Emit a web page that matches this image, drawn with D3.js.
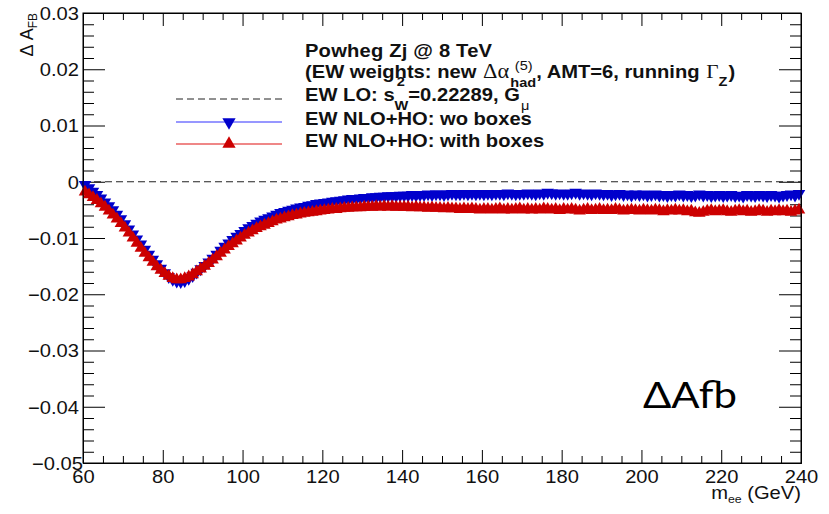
<!DOCTYPE html>
<html><head><meta charset="utf-8">
<script src="https://cdn.jsdelivr.net/npm/d3@7"></script>
<style>
html,body{margin:0;padding:0;background:#fff;}
svg{display:block;}
</style></head>
<body>
<svg id="chart" width="829" height="514"></svg>
<script>
// ---- data ----
const massDomain = [60, 240];
const yDomain = [-0.05, 0.03];
const binStart = 60.5;   // first bin centre (GeV), 1 GeV bins
const xMajorTicks = [60, 80, 100, 120, 140, 160, 180, 200, 220, 240];
const yMajorTicks = [-0.05, -0.04, -0.03, -0.02, -0.01, 0, 0.01, 0.02, 0.03];

const woBoxes = [
 -0.0005,-0.0011,-0.0017,-0.0023,-0.0029,-0.0036,-0.0043,-0.0050,-0.0058,-0.0066,
 -0.0075,-0.0084,-0.0093,-0.0102,-0.0111,-0.0120,-0.0129,-0.0138,-0.0146,-0.0154,
 -0.0162,-0.0169,-0.0174,-0.0177,-0.0178,-0.0176,-0.0172,-0.0167,-0.0161,-0.0155,
 -0.0149,-0.0143,-0.0136,-0.0129,-0.0122,-0.0115,-0.0109,-0.0103,-0.0097,-0.0092,
 -0.0087,-0.0082,-0.0078,-0.0074,-0.0070,-0.0067,-0.0064,-0.0061,-0.0058,-0.0055,
 -0.0053,-0.0051,-0.0049,-0.0047,-0.0045,-0.0044,-0.0042,-0.0041,-0.0039,-0.0038,
 -0.0037,-0.0036,-0.0035,-0.0034,-0.0033,-0.0032,-0.0031,-0.0030,-0.0030,-0.0029,
 -0.0028,-0.0028,-0.0027,-0.0027,-0.0026,-0.0026,-0.0025,-0.0025,-0.0025,-0.0024,
 -0.0024,
 -0.0024,-0.0023,-0.0024,-0.0023,-0.0023,-0.0022,-0.0023,-0.0022,-0.0022,-0.0023,
 -0.0022,-0.0021,-0.0022,-0.0022,-0.0021,-0.0022,-0.0021,-0.0022,-0.0021,-0.0022,
 -0.0021,-0.0022,-0.0021,-0.0021,-0.0022,-0.0020,-0.0021,-0.0022,-0.0021,-0.0021,
 -0.0020,-0.0021,-0.0022,-0.0020,-0.0021,-0.0019,-0.0020,-0.0021,-0.0020,-0.0021,
 -0.0021,-0.0020,-0.0019,-0.0021,-0.0020,-0.0021,-0.0022,-0.0020,-0.0021,-0.0022,
 -0.0021,-0.0023,-0.0022,-0.0021,-0.0023,-0.0022,-0.0024,-0.0022,-0.0023,-0.0022,
 -0.0024,-0.0023,-0.0022,-0.0024,-0.0023,-0.0025,-0.0023,-0.0024,-0.0022,-0.0024,
 -0.0023,-0.0025,-0.0024,-0.0022,-0.0024,-0.0023,-0.0025,-0.0024,-0.0023,-0.0025,
 -0.0024,-0.0023,-0.0025,-0.0024,-0.0026,-0.0023,-0.0024,-0.0025,-0.0023,-0.0024,
 -0.0025,-0.0023,-0.0024,-0.0026,-0.0024,-0.0023,-0.0022,-0.0024,-0.0021
];

const withBoxes = [
 -0.0018,-0.0023,-0.0028,-0.0033,-0.0039,-0.0045,-0.0052,-0.0059,-0.0066,-0.0074,
 -0.0082,-0.0091,-0.0100,-0.0109,-0.0118,-0.0127,-0.0135,-0.0143,-0.0151,-0.0157,
 -0.0163,-0.0168,-0.0172,-0.0174,-0.0174,-0.0172,-0.0169,-0.0165,-0.0160,-0.0155,
 -0.0150,-0.0145,-0.0139,-0.0133,-0.0127,-0.0121,-0.0115,-0.0110,-0.0105,-0.0100,
 -0.0095,-0.0091,-0.0087,-0.0083,-0.0080,-0.0077,-0.0074,-0.0071,-0.0068,-0.0066,
 -0.0064,-0.0062,-0.0060,-0.0059,-0.0057,-0.0056,-0.0055,-0.0054,-0.0053,-0.0052,
 -0.0051,-0.0050,-0.0049,-0.0049,-0.0048,-0.0047,-0.0047,-0.0046,-0.0046,-0.0046,
 -0.0045,-0.0045,-0.0045,-0.0044,-0.0045,-0.0044,-0.0045,-0.0044,-0.0045,-0.0045,
 -0.0045,
 -0.0045,-0.0046,-0.0045,-0.0046,-0.0046,-0.0047,-0.0046,-0.0047,-0.0047,-0.0048,
 -0.0047,-0.0048,-0.0048,-0.0049,-0.0048,-0.0049,-0.0048,-0.0049,-0.0050,-0.0049,
 -0.0049,-0.0050,-0.0049,-0.0048,-0.0050,-0.0049,-0.0050,-0.0049,-0.0048,-0.0050,
 -0.0049,-0.0050,-0.0049,-0.0050,-0.0048,-0.0049,-0.0050,-0.0049,-0.0051,-0.0049,
 -0.0050,-0.0049,-0.0050,-0.0052,-0.0050,-0.0049,-0.0051,-0.0050,-0.0049,-0.0051,
 -0.0050,-0.0051,-0.0049,-0.0050,-0.0052,-0.0051,-0.0050,-0.0051,-0.0052,-0.0050,
 -0.0051,-0.0052,-0.0050,-0.0051,-0.0053,-0.0051,-0.0052,-0.0050,-0.0052,-0.0051,
 -0.0053,-0.0052,-0.0055,-0.0056,-0.0054,-0.0052,-0.0051,-0.0053,-0.0052,-0.0051,
 -0.0053,-0.0054,-0.0052,-0.0051,-0.0053,-0.0052,-0.0054,-0.0053,-0.0051,-0.0052,
 -0.0054,-0.0052,-0.0053,-0.0051,-0.0053,-0.0052,-0.0054,-0.0052,-0.0050
];

const legendHeader = ["Powheg Zj @ 8 TeV", "(EW weights: new ", ", AMT=6, running "];
const legendLabels = ["EW LO: s", "EW NLO+HO: wo boxes", "EW NLO+HO: with boxes"];

// ---- layout ----
const X0 = 83, X1 = 801, Y0 = 13, Y1 = 463;
const SX = 1.12; // horizontal stretch of the ROOT text
const SANS = "'Liberation Sans', Arial, Helvetica, sans-serif";
const SERIF = "'Liberation Serif', 'Times New Roman', serif";
const BLUE = "#0000cc", RED = "#cc0000";

const svg = d3.select("#chart");
const x = d3.scaleLinear().domain(massDomain).range([X0, X1]);
const y = d3.scaleLinear().domain(yDomain).range([Y1, Y0]);

const xMinor = d3.range(60, 240.1, 5).filter(v => !xMajorTicks.includes(v));
const yMinor = d3.range(-50, 31, 2).map(v => v / 1000).filter(v => !yMajorTicks.some(t => Math.abs(t - v) < 1e-9));

function styleAxis(g) {
  g.selectAll("path.domain").attr("stroke", "#000").attr("stroke-width", 1);
  g.selectAll(".tick line").attr("stroke", "#000").attr("stroke-width", 1);
}

// minor ticks (no labels)
svg.append("g").attr("transform", `translate(${X0},0)`)
  .call(d3.axisLeft(y).tickValues(yMinor).tickSize(-11).tickSizeOuter(0).tickFormat(""))
  .call(styleAxis);
svg.append("g").attr("transform", `translate(${X1},0)`)
  .call(d3.axisRight(y).tickValues(yMinor).tickSize(-11).tickSizeOuter(0).tickFormat(""))
  .call(styleAxis);
svg.append("g").attr("transform", `translate(0,${Y1})`)
  .call(d3.axisBottom(x).tickValues(xMinor).tickSize(-7).tickSizeOuter(0).tickFormat(""))
  .call(styleAxis);
svg.append("g").attr("transform", `translate(0,${Y0})`)
  .call(d3.axisTop(x).tickValues(xMinor).tickSize(-7).tickSizeOuter(0).tickFormat(""))
  .call(styleAxis);

// major ticks
const fmtY = d => Math.abs(d) < 1e-9 ? "0" : d3.format(".2f")(d);
const gyl = svg.append("g").attr("transform", `translate(${X0},0)`)
  .call(d3.axisLeft(y).tickValues(yMajorTicks).tickSize(-22).tickSizeOuter(0).tickPadding(4).tickFormat(fmtY))
  .call(styleAxis);
gyl.selectAll(".tick text")
  .attr("font-family", SANS).attr("font-size", 18).attr("fill", "#111")
  .attr("x", null).attr("dy", "0.35em")
  .attr("transform", d => `translate(${Math.abs(d + 0.05) < 1e-9 ? 0 : -4},0) scale(${SX},1)`);

svg.append("g").attr("transform", `translate(${X1},0)`)
  .call(d3.axisRight(y).tickValues(yMajorTicks).tickSize(-22).tickSizeOuter(0).tickFormat(""))
  .call(styleAxis);

const gxb = svg.append("g").attr("transform", `translate(0,${Y1})`)
  .call(d3.axisBottom(x).tickValues(xMajorTicks).tickSize(-13).tickSizeOuter(0).tickPadding(7).tickFormat(d3.format("d")))
  .call(styleAxis);
gxb.selectAll(".tick text")
  .attr("font-family", SANS).attr("font-size", 18).attr("fill", "#111")
  .attr("y", null).attr("dy", null)
  .attr("transform", `translate(0,20) scale(${SX},1)`);

svg.append("g").attr("transform", `translate(0,${Y0})`)
  .call(d3.axisTop(x).tickValues(xMajorTicks).tickSize(-13).tickSizeOuter(0).tickFormat(""))
  .call(styleAxis);

// zero reference line (EW LO)
svg.append("line")
  .attr("x1", x(60)).attr("x2", x(240)).attr("y1", y(0)).attr("y2", y(0))
  .attr("stroke", "#222").attr("stroke-width", 1).attr("stroke-dasharray", "7,4");

// markers
const triUp = d3.symbol().type(d3.symbolTriangle).size(68)();
function drawSeries(vals, color, rot) {
  svg.append("g").selectAll("path").data(vals).join("path")
    .attr("d", triUp)
    .attr("fill", color)
    .attr("transform", (v, i) => `translate(${x(binStart + i)},${y(v)}) rotate(${rot})`);
}
drawSeries(woBoxes, BLUE, 180);
drawSeries(withBoxes, RED, 0);

// frame on top
svg.append("rect").attr("x", X0).attr("y", Y0).attr("width", X1 - X0).attr("height", Y1 - Y0)
  .attr("fill", "none").attr("stroke", "#000").attr("stroke-width", 1);

// axis titles
const yt = svg.append("text")
  .attr("transform", `translate(33,${Y0}) rotate(-90)`)
  .attr("text-anchor", "end").attr("font-family", SANS).attr("font-size", 18).attr("fill", "#111");
yt.append("tspan").text("\u0394 A");
yt.append("tspan").attr("font-size", 12).attr("dy", 4).text("FB");

const xt = svg.append("text")
  .attr("transform", `translate(${X1},499) scale(${SX},1)`)
  .attr("text-anchor", "end").attr("font-family", SANS).attr("font-size", 18).attr("fill", "#111");
xt.append("tspan").text("m");
xt.append("tspan").attr("font-size", 11).attr("dy", 4).text("ee");
xt.append("tspan").attr("dy", -4).text(" (GeV)");

// legend text (sequential pieces, stretched like the ROOT rendering)
const LX = 305;
const lg = svg.append("g").attr("transform", `translate(${LX},0) scale(${SX},1)`);
function piece(px, base, txt, opt) {
  const t = lg.append("text").attr("x", px).attr("y", base + (opt.shift || 0))
    .attr("font-family", opt.serif ? SERIF : SANS)
    .attr("font-weight", opt.normal ? "normal" : "bold")
    .attr("font-size", opt.size || 18).attr("fill", "#111")
    .attr("xml:space", "preserve").style("white-space", "pre").text(txt);
  if (opt.w) t.attr("textLength", opt.w).attr("lengthAdjust", "spacing");
  return opt.w || t.node().getComputedTextLength();
}
function line(base, parts) {
  let cx = 0;
  parts.forEach(p => {
    cx += (p.gap || 0);
    if (p.stack) {
      const w1 = piece(cx + (p.stack[0].dx || 0), base, p.stack[0].t, p.stack[0]) + (p.stack[0].dx || 0);
      const w2 = piece(cx + (p.stack[1].dx || 0), base, p.stack[1].t, p.stack[1]) + (p.stack[1].dx || 0);
      cx += Math.max(w1, w2);
    } else {
      cx += piece(cx, base, p.t, p);
    }
  });
}
line(57, [{t: legendHeader[0], w: 187 / SX}]);
line(78, [
  {t: legendHeader[1]},
  {t: "\u0394\u03b1", serif: true, normal: true, size: 20, gap: 1},
  {gap: 1, stack: [{t: "(5)", size: 13, normal: true, shift: -8, dx: 4}, {t: "had", size: 13, shift: 9}]},
  {t: legendHeader[2]},
  {t: "\u0393", serif: true, normal: true, size: 19, gap: 1},
  {t: "Z", size: 13, shift: 8},
  {t: ")", gap: 1}
]);
line(101, [
  {t: legendLabels[0]},
  {stack: [{t: "2", size: 13, shift: -15, dx: 2}, {t: "W", size: 13, shift: 9}]},
  {t: "=0.22289, G"},
  {t: "\u03bc", size: 13, shift: 9, normal: true, gap: 1}
]);
line(125, [{t: legendLabels[1]}]);
line(147, [{t: legendLabels[2]}]);

// legend symbols
const LS0 = 176, LS1 = 282, LSM = 229;
svg.append("line").attr("x1", LS0).attr("x2", LS1).attr("y1", 99).attr("y2", 99)
  .attr("stroke", "#222").attr("stroke-dasharray", "7,4");
svg.append("line").attr("x1", LS0).attr("x2", LS1).attr("y1", 122).attr("y2", 122)
  .attr("stroke", "#3030ff").attr("stroke-width", 1.2);
svg.append("line").attr("x1", LS0).attr("x2", LS1).attr("y1", 144).attr("y2", 144)
  .attr("stroke", "#e01010").attr("stroke-width", 1.2);
const triL = d3.symbol().type(d3.symbolTriangle).size(76)();
svg.append("path").attr("d", triL).attr("fill", BLUE).attr("transform", `translate(${LSM},122) rotate(180)`);
svg.append("path").attr("d", triL).attr("fill", RED).attr("transform", `translate(${LSM},144)`);

// slide annotation
svg.append("text").attr("x", 643).attr("y", 408)
  .attr("font-family", "Lato, 'Open Sans', sans-serif").attr("font-size", 36).attr("fill", "#000")
  .attr("textLength", 94).attr("lengthAdjust", "spacingAndGlyphs")
  .text("\u0394Afb");
</script>
</body></html>
